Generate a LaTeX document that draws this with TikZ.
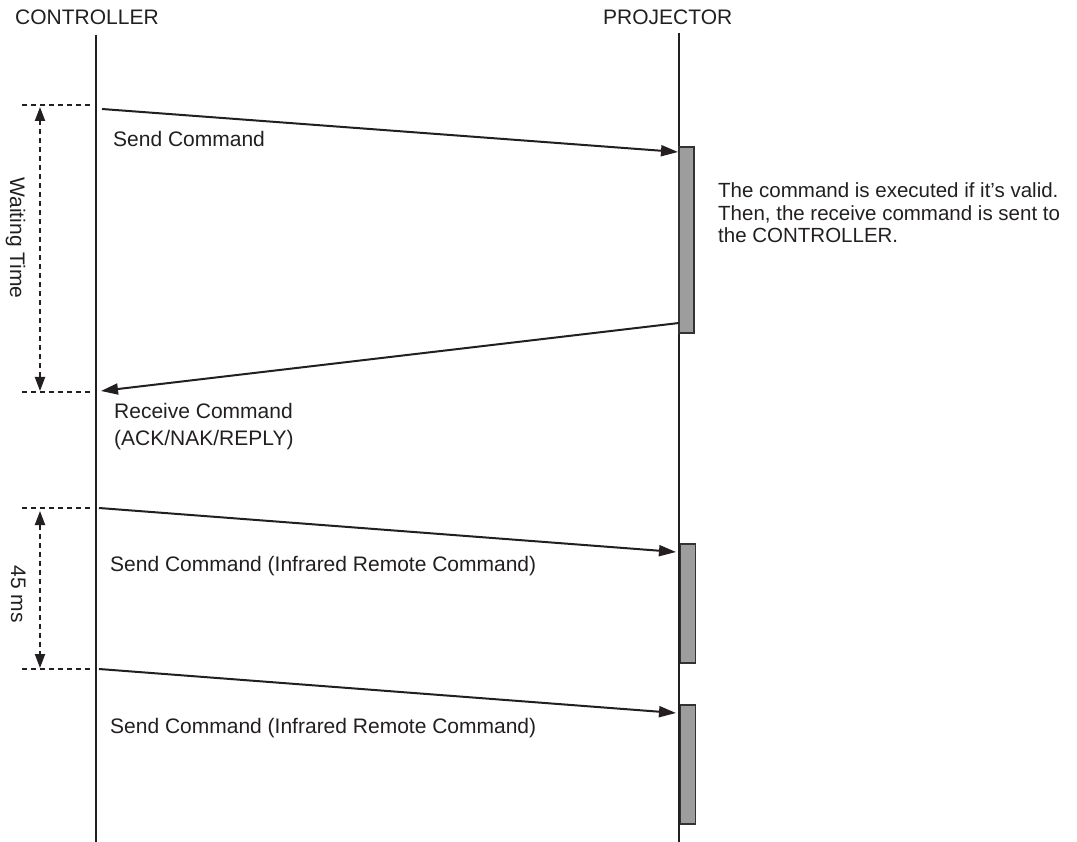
\documentclass[tikz,border=0pt]{standalone}
\usepackage{fontspec}
\setmainfont{Liberation Sans}
\usetikzlibrary{arrows.meta}
\definecolor{ink}{HTML}{231F20}
\definecolor{actfill}{HTML}{9D9D9D}
\definecolor{actline}{HTML}{333333}
\tikzset{
  lbl/.style={font=\fontsize{21}{25}\selectfont, text=ink, inner sep=0pt},
  lifeline/.style={draw=ink, line width=1.3pt},
  msg/.style={draw=ink, line width=2pt, -{Triangle[length=17pt,width=11pt]}},
  guide/.style={draw=ink, line width=2pt, dash pattern=on 5pt off 4pt},
  span/.style={guide, {Triangle[length=14pt,width=10pt]}-{Triangle[length=14pt,width=10pt]}},
  actbox/.style={draw=actline, fill=actfill, line width=1.4pt, minimum width=15pt, inner sep=0pt, rectangle},
}
\begin{document}
\begin{tikzpicture}[x=1pt,y=-1pt]
\useasboundingbox (0,0) rectangle (1077,842);
% headers
\node[lbl, anchor=base west] (hc) at (15,25) {CONTROLLER};
\node[lbl, anchor=base west] (hp) at (603,25) {PROJECTOR};
% lifelines
\coordinate (C0) at (96,35);
\coordinate (C1) at (96,842);
\coordinate (P0) at (679,33);
\coordinate (P1) at (679,842);
\draw[lifeline] (C0) -- (C1);
\draw[lifeline] (P0) -- (P1);
% activation boxes
\node[actbox, minimum height=186pt] (b1) at (686.5,240) {};
\node[actbox, minimum height=119pt] (b2) at (688,603.5) {};
\node[actbox, minimum height=119pt] (b3) at (688,764.5) {};
% waiting time guides
\coordinate (g1a) at (22,105);
\coordinate (g1b) at (93,105);
\coordinate (g2a) at (22,392);
\coordinate (g2b) at (93,392);
\draw[guide] (g1a) -- (g1b);
\draw[guide] (g2a) -- (g2b);
\coordinate (w1) at (40,107);
\coordinate (w2) at (40,391);
\draw[span] (w1) -- (w2);
\node[lbl, rotate=-90, anchor=base] (wt) at (10,238) {Waiting Time};
% 45 ms guides
\coordinate (g3a) at (22,508);
\coordinate (g3b) at (93,508);
\coordinate (g4a) at (22,669);
\coordinate (g4b) at (93,669);
\draw[guide] (g3a) -- (g3b);
\draw[guide] (g4a) -- (g4b);
\coordinate (m1) at (40,511);
\coordinate (m2) at (40,668);
\draw[span] (m1) -- (m2);
\node[lbl, rotate=-90, anchor=base] (ms) at (11,594) {45 ms};
% messages
\coordinate (s1a) at (102,109);
\coordinate (s1b) at (678,152);
\draw[msg] (s1a) -- (s1b);
\node[lbl, anchor=base west] (t1) at (113,147) {Send Command};
\coordinate (r1a) at (679,323);
\coordinate (r1b) at (101,391);
\draw[msg] (r1a) -- (r1b);
\node[lbl, anchor=base west, align=left, font=\fontsize{21}{27}\selectfont] (t2) at (114,445) {Receive Command\\(ACK/NAK/REPLY)};
\node[lbl, anchor=base west, align=left, font=\fontsize{20.5}{22.5}\selectfont] (t3) at (718,243) {The command is executed if it’s valid.\\Then, the receive command is sent to\\the CONTROLLER.};
\coordinate (s2a) at (99,508);
\coordinate (s2b) at (676,552);
\draw[msg] (s2a) -- (s2b);
\node[lbl, anchor=base west] (t4) at (110,571) {Send Command (Infrared Remote Command)};
\coordinate (s3a) at (99,669);
\coordinate (s3b) at (676,713);
\draw[msg] (s3a) -- (s3b);
\node[lbl, anchor=base west] (t5) at (110,733) {Send Command (Infrared Remote Command)};
\end{tikzpicture}
\end{document}
